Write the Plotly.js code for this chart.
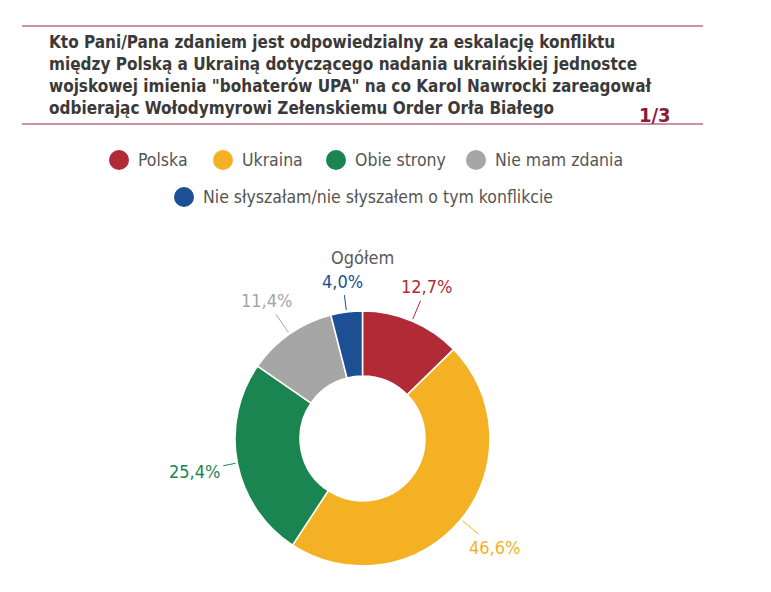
<!DOCTYPE html>
<html>
<head>
<meta charset="utf-8">
<script src="https://cdn.plot.ly/plotly-3.0.1.min.js"></script>
<style>html,body{margin:0;padding:0;background:#fff}#chart{width:771px;height:592px}</style>
</head>
<body>
<div id="chart"></div>
<script>
const categories = ['Polska', 'Ukraina', 'Obie strony', 'Nie mam zdania', 'Nie słyszałam/nie słyszałem o tym konflikcie'];
const values = [12.7, 46.6, 25.4, 11.4, 4.0];
const valueLabels = ['12,7%', '46,6%', '25,4%', '11,4%', '4,0%'];
const colors = ['#b22a36', '#f4b124', '#1a8550', '#a6a6a6', '#1c4f94'];
const titleText = 'Kto Pani/Pana zdaniem jest odpowiedzialny za eskalację konfliktu<br>między Polską a Ukrainą dotyczącego nadania ukraińskiej jednostce<br>wojskowej imienia "bohaterów UPA" na co Karol Nawrocki zareagował<br>odbierając Wołodymyrowi Zełenskiemu Order Orła Białego';
const pageLabel = '1/3';
const subTitle = 'Ogółem';

const W = 771, H = 592;
const px = x => x / W, py = y => 1 - y / H;
const narrow = '"DejaVu Sans Condensed", "Liberation Sans Narrow", sans-serif';

// pie geometry (pixels)
const cx = 362.5, cy = 438.5, R = 127.5;

const pie = {
  type: 'pie', values: values, labels: categories, sort: false,
  direction: 'clockwise', rotation: 0, hole: 0.49,
  marker: {colors: colors, line: {color: '#ffffff', width: 1.5}},
  textinfo: 'none', hoverinfo: 'label+percent', showlegend: false,
  domain: {x: [px(cx - R), px(cx + R)], y: [py(cy + R), py(cy - R)]}
};

const annotations = [];
annotations.push({xref: 'paper', yref: 'paper', x: px(47), y: py(30), xanchor: 'left', yanchor: 'top',
  text: '<b>' + titleText + '</b>', align: 'left', showarrow: false,
  font: {family: narrow, size: 17, color: '#3a3a3a'}});
annotations.push({xref: 'paper', yref: 'paper', x: px(655), y: py(115), xanchor: 'center', yanchor: 'middle',
  text: '<b>' + pageLabel + '</b>', showarrow: false, font: {family: narrow, size: 20, color: '#8b1a3d'}});
annotations.push({xref: 'paper', yref: 'paper', x: px(cx), y: py(258), xanchor: 'center', yanchor: 'middle',
  text: subTitle, showarrow: false, font: {family: narrow, size: 18, color: '#595959'}});

// legend
const legendPos = [[119, 160], [223, 160], [336, 160], [476, 160], [184, 197]];
const shapes = [
  {type: 'line', xref: 'paper', yref: 'paper', x0: px(22), x1: px(703), y0: py(26), y1: py(26), line: {color: '#b86f82', width: 1.5}},
  {type: 'line', xref: 'paper', yref: 'paper', x0: px(22), x1: px(703), y0: py(124), y1: py(124), line: {color: '#b86f82', width: 1.5}}
];
categories.forEach((c, i) => {
  const [lx, ly] = legendPos[i];
  shapes.push({type: 'circle', xref: 'paper', yref: 'paper', x0: px(lx - 10), x1: px(lx + 10), y0: py(ly + 10), y1: py(ly - 10),
    fillcolor: colors[i], line: {width: 0}});
  annotations.push({xref: 'paper', yref: 'paper', x: px(lx + 17), y: py(ly), xanchor: 'left', yanchor: 'middle',
    text: c, showarrow: false, font: {family: narrow, size: 17.5, color: '#555555'}});
});

// value labels from slice mid-angles
const total = values.reduce((a, b) => a + b, 0);
let cum = 0;
values.forEach((v, i) => {
  const th = 2 * Math.PI * (cum + v / 2) / total;
  cum += v;
  const s = Math.sin(th), c = Math.cos(th);
  const ex = cx + R * s, ey = cy - R * c;
  const d = 14 + Math.abs(s) * 26 + Math.abs(c) * 12;
  annotations.push({xref: 'paper', yref: 'paper', x: px(ex + 2 * s), y: py(ey - 2 * c),
    ax: d * s, ay: -d * c, text: valueLabels[i], showarrow: true, arrowhead: 0, arrowwidth: 1,
    arrowcolor: colors[i], standoff: 0, startstandoff: 2,
    font: {family: narrow, size: 18, color: colors[i]}});
});

const layout = {
  width: W, height: H, margin: {l: 0, r: 0, t: 0, b: 0},
  paper_bgcolor: '#ffffff', plot_bgcolor: '#ffffff',
  shapes: shapes, annotations: annotations, showlegend: false
};
Plotly.newPlot('chart', [pie], layout, {displayModeBar: false, staticPlot: true});
</script>
</body>
</html>
